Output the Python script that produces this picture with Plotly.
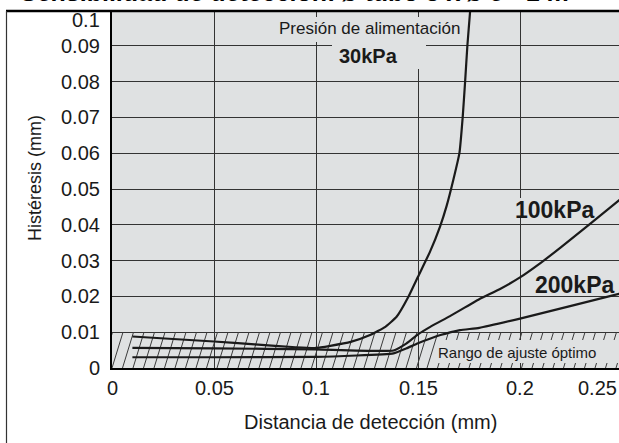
import plotly.graph_objects as go

# ---- data ----
x_30 = [0.01, 0.03, 0.05, 0.07, 0.09, 0.1, 0.107, 0.117, 0.1265, 0.134, 0.1395,
        0.1453, 0.150, 0.1559, 0.1608, 0.164, 0.1673, 0.1703, 0.1719, 0.1731, 0.1742, 0.1756, 0.1765]
y_30 = [0.0088, 0.0081, 0.0074, 0.0066, 0.0058, 0.0056, 0.0062, 0.0073, 0.0092, 0.0115, 0.0143,
        0.0199, 0.0255, 0.0325, 0.0395, 0.0452, 0.0525, 0.0600, 0.0700, 0.0800, 0.0900, 0.1000, 0.1060]

x_100 = [0.01, 0.05, 0.1, 0.138, 0.1444, 0.150, 0.156, 0.1657, 0.180, 0.190, 0.200, 0.210, 0.220, 0.2485, 0.252]
y_100 = [0.0056, 0.0055, 0.0052, 0.0049, 0.0069, 0.0094, 0.0115, 0.0145, 0.0192, 0.0220, 0.0253, 0.0293, 0.0337, 0.0468, 0.0485]

x_200 = [0.01, 0.05, 0.1, 0.138, 0.1444, 0.150, 0.161, 0.1706, 0.180, 0.200, 0.2485, 0.252]
y_200 = [0.0030, 0.0030, 0.0031, 0.0041, 0.0055, 0.0069, 0.0092, 0.0106, 0.0112, 0.0138, 0.0207, 0.0212]

x_ticks = [0, 0.05, 0.1, 0.15, 0.2, 0.25]
x_labels = ["0", "0.05", "0.1", "0.15", "0.2", "0.25"]
y_ticks = [0, 0.01, 0.02, 0.03, 0.04, 0.05, 0.06, 0.07, 0.08, 0.09, 0.1]
y_labels = ["0", "0.01", "0.02", "0.03", "0.04", "0.05", "0.06", "0.07", "0.08", "0.09", "0.1"]

optimal_band = [0, 0.01]

title_text = "Sensibilidad de detección: ø tubo 3 x ø 5 - 1 m"
x_title = "Distancia de detección (mm)"
y_title = "Histéresis (mm)"

# ---- layout geometry ----
W, H = 619, 443
ML, MR, MT, MB = 112, 0, 10, 75
PW, PH = W - ML - MR, H - MT - MB
XS = 2040.0            # pixels per data unit (x)
YS = PH / 0.1          # pixels per data unit (y)
X_MAX = PW / XS
Y_MAX = 0.1
BG = "#dfe1e2"
INK = "#1a1a1a"
FONT = "Liberation Sans, Arial, sans-serif"

def px_x(p):  # pixel -> paper x
    return (p - ML) / PW

def px_y(p):  # pixel -> paper y
    return (H - MB - p) / PH

def dx(p):    # pixel -> data x
    return (p - ML) / XS

def dy(p):    # pixel -> data y
    return (H - MB - p) / YS

fig = go.Figure()

# hatch pattern for the optimal band (drawn as a background trace)
step = 10.5 / XS
slant = 11.0 / XS
hx, hy = [], []
k = -2
while k * step < X_MAX + step:
    x0 = k * step
    hx += [x0, x0 + slant, None]
    hy += [optimal_band[0], optimal_band[1], None]
    k += 1
fig.add_trace(go.Scatter(x=hx, y=hy, mode="lines", line=dict(color="#3a3a3a", width=1),
                         showlegend=False, hoverinfo="skip", cliponaxis=True))

for xs, ys in [(x_30, y_30), (x_100, y_100), (x_200, y_200)]:
    fig.add_trace(go.Scatter(x=xs, y=ys, mode="lines",
                             line=dict(color=INK, width=2.2, shape="spline", smoothing=0.4),
                             showlegend=False, hoverinfo="skip"))

def patch(px0, px1, py_top, py_bot):
    return dict(type="rect", xref="x", yref="y", layer="above",
                x0=dx(px0), x1=dx(px1), y0=dy(py_bot), y1=dy(py_top),
                fillcolor=BG, line=dict(width=0))

shapes = [
    # background patches that interrupt grid / hatching behind labels
    patch(437, 625, 340, 363),
    patch(275, 462, 17, 42),
    patch(332, 426, 41, 69),
    patch(513, 591, 198, 218),
    # outer frame
    dict(type="line", xref="paper", yref="paper", layer="above",
         x0=px_x(6), x1=px_x(625), y0=px_y(11), y1=px_y(11),
         line=dict(color="black", width=2.5)),
    dict(type="line", xref="paper", yref="paper", layer="above",
         x0=px_x(6.5), x1=px_x(6.5), y0=px_y(11), y1=px_y(450),
         line=dict(color="#333333", width=1.2)),
]

ann = []
for v, t in zip(x_ticks, x_labels):
    inside = v <= X_MAX
    ann.append(dict(x=v if inside else X_MAX, y=px_y(388), xref="x", yref="paper",
                    text=t, showarrow=False, xanchor="center" if inside else "right",
                    yanchor="middle", font=dict(family=FONT, size=20, color=INK)))
for v, t in zip(y_ticks, y_labels):
    ann.append(dict(x=px_x(102), y=v, xref="paper", yref="y", text=t, showarrow=False,
                    xanchor="right", yanchor="middle", yshift=-10 if v >= Y_MAX else 0,
                    font=dict(family=FONT, size=20, color=INK)))

def label(px, py, text, size, **kw):
    d = dict(x=px_x(px), y=px_y(py), xref="paper", yref="paper", text=text,
             showarrow=False, xanchor="center", yanchor="middle",
             font=dict(family=FONT, size=size, color=INK))
    d.update(kw)
    return d

ann += [
    label(370, 422, x_title, 20),
    label(35, 178, y_title, 18, textangle=-90),
    label(369, 28, "Presión de alimentación", 17),
    label(368, 56, "<b>30kPa</b>", 20),
    label(555, 210, "<b>100kPa</b>", 23),
    label(575, 285, "<b>200kPa</b>", 23),
    label(517, 352, "Rango de ajuste óptimo", 15),
    dict(x=px_x(294), y=1, xref="paper", yref="paper", text="<b>" + title_text + "</b>",
         showarrow=False, yanchor="bottom", xanchor="center", yshift=2,
         font=dict(family=FONT, size=25, color="black")),
]

fig.update_layout(
    width=W, height=H, margin=dict(l=ML, r=MR, t=MT, b=MB),
    paper_bgcolor="white", plot_bgcolor=BG,
    shapes=shapes, annotations=ann, showlegend=False,
    xaxis=dict(range=[0, X_MAX], tickvals=x_ticks, showticklabels=False, ticks="",
               showgrid=True, gridcolor="#333333", gridwidth=1, zeroline=False,
               showline=True, linecolor="black", linewidth=1.5, fixedrange=True),
    yaxis=dict(range=[0, Y_MAX], tickvals=y_ticks, showticklabels=False, ticks="",
               showgrid=True, gridcolor="#333333", gridwidth=1, zeroline=False,
               showline=True, linecolor="black", linewidth=1.5, fixedrange=True),
)

fig.write_html("out.html", config={"displayModeBar": False},
               post_script="document.body.style.margin='0';document.body.style.overflow='hidden';")
